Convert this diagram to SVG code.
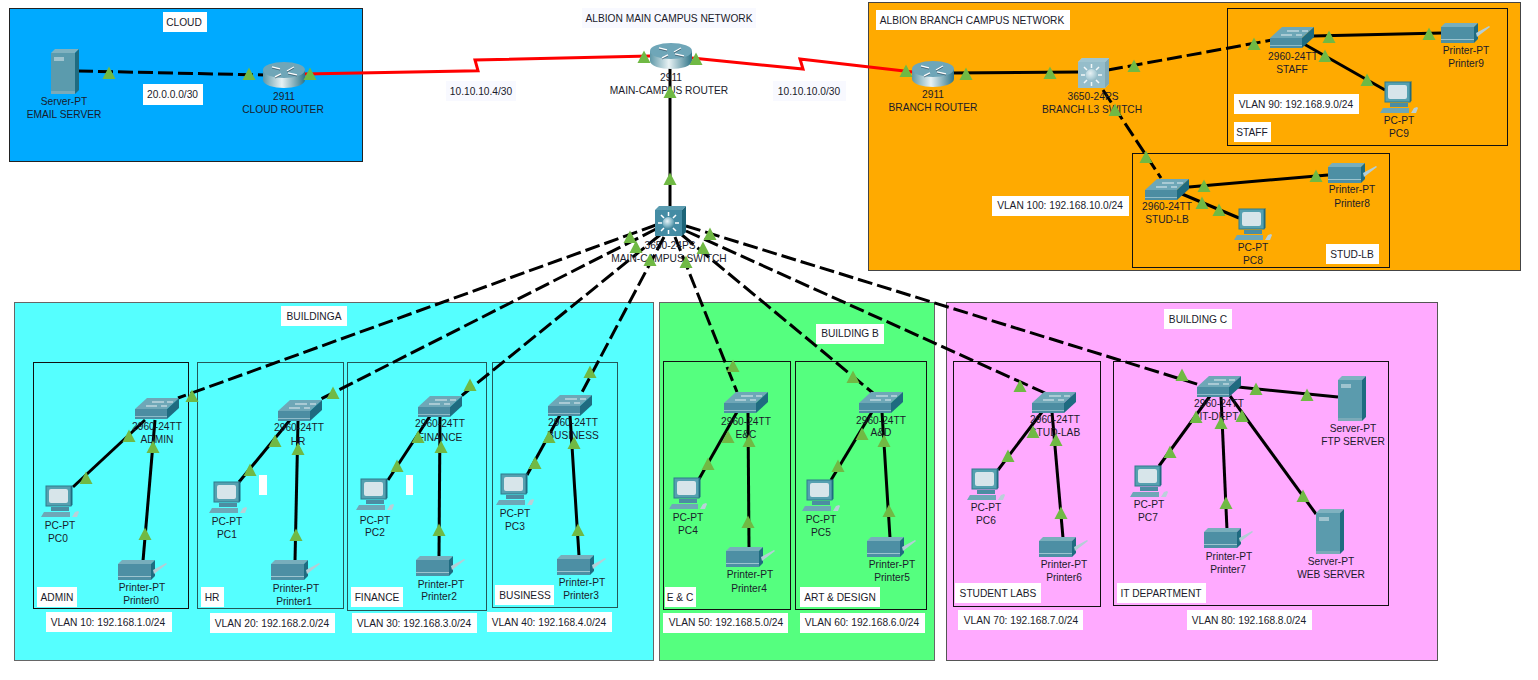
<svg xmlns="http://www.w3.org/2000/svg" xmlns:xlink="http://www.w3.org/1999/xlink" width="1538" height="680" viewBox="0 0 1538 680">
<style>
text{font-family:"Liberation Sans",Arial,sans-serif;font-size:10.2px;fill:#1a1a2a;text-anchor:middle}
.box{fill:#fff}
.pale{fill:#f8f9ff}
.sub{fill:none;stroke:#111;stroke-width:1}
.c{fill:none;stroke:#000;stroke-width:3}
.d{stroke-dasharray:15 5}
.r{fill:none;stroke:#f00;stroke-width:3}
.t{fill:#70b944}
</style>
<defs>
<linearGradient id="rg" x1="0" x2="1" y1="0" y2="0"><stop offset="0" stop-color="#5f98a8"/><stop offset=".45" stop-color="#e8f2f4"/><stop offset="1" stop-color="#2f7488"/></linearGradient>
<radialGradient id="sp" cx=".4" cy=".35" r=".7"><stop offset="0" stop-color="#e8f4f8"/><stop offset=".6" stop-color="#7fb4c4"/><stop offset="1" stop-color="#3a7f94"/></radialGradient>
<polygon id="t" class="t" points="0,-6.500 6.500,6 -6.500,6"/>
<g id="router">
<path d="M-21-5V5C-21 10-10 13 0 13S21 10 21 5V-5Z" fill="url(#rg)"/>
<ellipse cx="0" cy="-5" rx="21" ry="8" fill="#6fa6b8"/>
<path d="M-12-8l8 2M-3-1l-6 3M3-4l7-4M4-2l9 2" stroke="#fff" stroke-width="1.400" fill="none"/>
<path d="M-12-8l8 2M-3-1l-6 3M3-4l7-4M4-2l9 2" stroke="#123" stroke-width=".5" fill="none" transform="translate(0 1)"/>
</g>
<g id="sw">
<path d="M-22 0L-10-11H22L10 0Z" fill="#6ea7b7"/>
<rect x="-22" y="0" width="32" height="10" fill="#4c8da2"/>
<path d="M10 0L22-11V-1L10 10Z" fill="#1f6b80"/>
<path d="M-11-3h11M-5-7h12M4-3h6M10-7h6" stroke="#e4eef2" stroke-width="1"/>
<rect x="-22" y="7" width="32" height="1" fill="#8fbcc9"/>
</g>
<g id="l3m">
<path d="M-15-11l4-4H16l-4 4Z" fill="#5b9cb0"/>
<path d="M12-11l4-4V11l-4 4Z" fill="#1c6478"/>
<rect x="-15" y="-11" width="27" height="26" fill="#448ca4"/>
<circle cx="-1.500" cy="2" r="6" fill="url(#sp)"/>
<path d="M-1.500-9v4M-1.500 9v4M-12 2h4M5 2h4M-9-6l3 3M6-6L3-3M-9 10l3-3M6 10L3 7" stroke="#fff" stroke-width="1.500"/>
</g>
<g id="pc">
<rect x="-14" y="-16" width="25" height="20" fill="#55a0b0" stroke="#2f7a8c"/>
<rect x="-11" y="-13" width="19" height="14" rx="2" fill="#d7e5ea"/>
<path d="M11-16l1.500-1V3L11 4Z" fill="#1f6b80"/>
<rect x="-9" y="5" width="18" height="4" fill="#4c8da2"/>
<path d="M-19 15l3-5H10v5Z" fill="#6ea7b7"/>
<path d="M12 15l3-5 3-1 1 1-2 5Z" fill="#b9d0d8"/>
</g>
<g id="printer">
<path d="M-25-6l4-4H12l-4 4Z" fill="#78aebc"/>
<rect x="-25" y="-6" width="33" height="16" fill="#4d8fa4"/>
<path d="M8-6l4-4V6l-4 4Z" fill="#1f6b80"/>
<rect x="-25" y="6" width="33" height="1" fill="#9cc4cf"/>
<path d="M10 0L23-7l1 1L11 4Z" fill="#b4ced6"/>
</g>
<g id="server">
<path d="M-14-18l4-4H14l-4 4Z" fill="#7fb2c0"/>
<rect x="-14" y="-18" width="24" height="41" fill="#5b9bad"/>
<path d="M10-18l4-4V19l-4 4Z" fill="#1f6b80"/>
<rect x="-11" y="-14" width="10" height="4" fill="#9fc4cf"/>
<rect x="-14" y="20" width="24" height="3" fill="#7aaab8"/>
</g>
</defs>
<rect width="1538" height="680" fill="#fff"/>

<g id="areas">
<rect x="9.500" y="8.500" width="353" height="153" fill="#00aaff" stroke="#222"/>
<rect x="868.500" y="2.500" width="652" height="268" fill="#ffaa00" stroke="#444"/>
<rect x="1227.500" y="8.500" width="280" height="137" class="sub"/>
<rect x="1132.500" y="153.500" width="257" height="114" class="sub"/>
<rect x="14.500" y="302.500" width="639" height="358" fill="#55ffff" stroke="#666"/>
<rect x="659.500" y="302.500" width="275" height="358" fill="#55ff7f" stroke="#666"/>
<rect x="946.500" y="302.500" width="491" height="358" fill="#ffaaff" stroke="#555"/>
<rect x="33.500" y="362.500" width="155" height="246" class="sub"/>
<rect x="197.500" y="362.500" width="146" height="246" class="sub" stroke-opacity=".7"/>
<rect x="347.500" y="362.500" width="139" height="248" class="sub" stroke-opacity=".7"/>
<rect x="492.500" y="362.500" width="125" height="245" class="sub" stroke-opacity=".7"/>
<rect x="663.500" y="361.500" width="127" height="248" class="sub"/>
<rect x="795.500" y="361.500" width="131" height="248" class="sub"/>
<rect x="953.500" y="361.500" width="147" height="245" class="sub"/>
<rect x="1113.500" y="361.500" width="275" height="244" class="sub"/>
</g>

<g id="labels">
<rect x="163" y="12" width="44" height="20" class="box"/><text x="184" y="25.500">CLOUD</text>
<rect x="143" y="84" width="60" height="21" class="box"/><text x="172.500" y="98">20.0.0.0/30</text>
<rect x="446" y="81" width="70" height="20" class="pale"/><text x="481" y="94.500">10.10.10.4/30</text>
<rect x="582" y="8" width="174" height="20" class="pale"/><text x="669" y="21.500">ALBION MAIN CAMPUS NETWORK</text>
<rect x="773" y="81" width="73" height="20" class="pale"/><text x="809" y="94.500">10.10.10.0/30</text>
<rect x="876" y="10" width="194" height="20" class="box"/><text x="972" y="23.500">ALBION BRANCH CAMPUS NETWORK</text>
<rect x="1234" y="94" width="125" height="20" class="box"/><text x="1296" y="107.500">VLAN 90: 192.168.9.0/24</text>
<rect x="1234" y="122" width="37" height="20" class="box"/><text x="1252" y="135.500">STAFF</text>
<rect x="992" y="196" width="137" height="20" class="box"/><text x="1060" y="209">VLAN 100: 192.168.10.0/24</text>
<rect x="1326" y="244" width="53" height="20" class="box"/><text x="1352" y="257.500">STUD-LB</text>
<rect x="281" y="306" width="66" height="20" class="box"/><text x="314" y="319.500">BUILDINGA</text>
<rect x="816" y="324" width="68" height="20" class="box"/><text x="850" y="337">BUILDING B</text>
<rect x="1164" y="309" width="68" height="20" class="box"/><text x="1198" y="323">BUILDING C</text>
<rect x="37" y="587" width="40" height="20" class="box"/><text x="57" y="600.500">ADMIN</text>
<rect x="201" y="587" width="23" height="20" class="box"/><text x="212" y="600.500">HR</text>
<rect x="351" y="587" width="52" height="20" class="box"/><text x="377" y="600.500">FINANCE</text>
<rect x="495" y="585" width="59" height="20" class="box"/><text x="525" y="598.500">BUSINESS</text>
<rect x="665" y="587" width="31" height="20" class="box"/><text x="680" y="600.500">E &amp; C</text>
<rect x="800" y="587" width="80" height="20" class="box"/><text x="840" y="600.500">ART &amp; DESIGN</text>
<rect x="955" y="583" width="86" height="20" class="box"/><text x="998" y="596.500">STUDENT LABS</text>
<rect x="1117" y="583" width="89" height="20" class="box"/><text x="1161" y="596.500">IT DEPARTMENT</text>
<rect x="46" y="612" width="126" height="20" class="box"/><text x="108" y="625.500">VLAN 10: 192.168.1.0/24</text>
<rect x="210" y="613" width="125" height="20" class="box"/><text x="272" y="626.500">VLAN 20: 192.168.2.0/24</text>
<rect x="352" y="613" width="125" height="20" class="box"/><text x="414" y="626.500">VLAN 30: 192.168.3.0/24</text>
<rect x="487" y="612" width="125" height="20" class="box"/><text x="549" y="625.500">VLAN 40: 192.168.4.0/24</text>
<rect x="663" y="613" width="125" height="20" class="box"/><text x="726" y="626">VLAN 50: 192.168.5.0/24</text>
<rect x="800" y="613" width="125" height="20" class="box"/><text x="862" y="626">VLAN 60: 192.168.6.0/24</text>
<rect x="958" y="610" width="125" height="20" class="box"/><text x="1021" y="623.500">VLAN 70: 192.168.7.0/24</text>
<rect x="1187" y="610" width="125" height="20" class="box"/><text x="1249" y="623.500">VLAN 80: 192.168.8.0/24</text>
<rect x="259" y="475" width="8" height="20" class="box"/>
<rect x="406" y="475" width="7" height="20" class="box"/>
</g>

<g id="connectors">
<path class="c d" d="M78 71L265 75"/>
<path class="r" d="M304 74L478 70.700L475 60L650 56"/>
<path class="r" d="M692 58L803 69L800 59L913 72"/>
<path class="c" d="M670 66V206"/>
<path class="c" d="M950 73L1080 72"/>
<path class="c d" d="M1108 70L1272 40"/>
<path class="c d" d="M1103 90L1161 178"/>
<path class="c" d="M1313 36L1442 33"/>
<path class="c" d="M1304 44L1385 90"/>
<path class="c" d="M1189 187L1328 175"/>
<path class="c" d="M1182 194L1239 218"/>
<path class="c d" d="M656 225L178 398"/>
<path class="c d" d="M656 229L319 400"/>
<path class="c d" d="M660 235L460 397"/>
<path class="c d" d="M664 237L580 396"/>
<path class="c d" d="M675 237L737 392"/>
<path class="c d" d="M682 235L873 393"/>
<path class="c d" d="M686 231L1045 393"/>
<path class="c d" d="M686 226L1200 385"/>
<path class="c" d="M145 420L73 487"/>
<path class="c" d="M155 420L143 561"/>
<path class="c" d="M290 420L239 482"/>
<path class="c" d="M298 421L295 561"/>
<path class="c" d="M430 416L388 480"/>
<path class="c" d="M440 417L439 557"/>
<path class="c" d="M560 415L527 475"/>
<path class="c" d="M570 415L579 556"/>
<path class="c" d="M737 412L699 479"/>
<path class="c" d="M748 412L749 548"/>
<path class="c" d="M872 412L831 480"/>
<path class="c" d="M882 412L890 538"/>
<path class="c" d="M1042 412L998 470"/>
<path class="c" d="M1052 412L1063 538"/>
<path class="c" d="M1210 396L1159 466"/>
<path class="c" d="M1221 396L1227 530"/>
<path class="c" d="M1230 396L1316 514"/>
<path class="c" d="M1238 387L1338 397"/>
</g>

<g id="email-server"><use href="#server" x="65" y="71"/><text x="64" y="104.500">Server-PT</text><text x="64" y="117.500">EMAIL SERVER</text></g>
<g id="cloud-router"><use href="#router" x="284" y="75"/><text x="284" y="100">2911</text><text x="283" y="113">CLOUD ROUTER</text></g>
<g id="main-router"><use href="#router" x="671" y="56"/><text x="671" y="80.500">2911</text><text x="669" y="93.500">MAIN-CAMPUS ROUTER</text></g>
<g id="main-switch"><use href="#l3m" x="670" y="221"/><text x="670" y="248.500">3650-24PS</text><text x="669" y="261.500">MAIN-CAMPUS SWITCH</text></g>
<g id="branch-router"><use href="#router" x="933" y="74"/><text x="933" y="98">2911</text><text x="933" y="111">BRANCH ROUTER</text></g>
<g id="branch-switch"><path d="M1078 62l4-4h27v26l-4 4h-27z" fill="#e8f0f2"/><use href="#l3m" x="1093" y="73" opacity=".5"/><text x="1093" y="100">3650-24PS</text><text x="1092" y="113">BRANCH L3 SWITCH</text></g>
<g id="staff-switch"><use href="#sw" x="1292" y="38"/><text x="1293" y="59.500">2960-24TT</text><text x="1292" y="72.500">STAFF</text></g>
<g id="printer9"><use href="#printer" x="1466" y="33"/><text x="1466" y="54">Printer-PT</text><text x="1466" y="67">Printer9</text></g>
<g id="pc9"><use href="#pc" x="1399" y="98"/><text x="1399" y="124">PC-PT</text><text x="1399" y="137">PC9</text></g>
<g id="studlb-switch"><use href="#sw" x="1167" y="190"/><text x="1167" y="209.500">2960-24TT</text><text x="1167" y="222.500">STUD-LB</text></g>
<g id="printer8"><use href="#printer" x="1353" y="173"/><text x="1352" y="193">Printer-PT</text><text x="1352" y="207">Printer8</text></g>
<g id="pc8"><use href="#pc" x="1253" y="225"/><text x="1253" y="251">PC-PT</text><text x="1253" y="264">PC8</text></g>

<g id="admin-switch"><use href="#sw" x="157" y="409"/><text x="157" y="430">2960-24TT</text><text x="157" y="443">ADMIN</text></g>
<g id="pc0"><use href="#pc" x="60" y="502"/><text x="60" y="528.500">PC-PT</text><text x="58" y="541.500">PC0</text></g>
<g id="printer0"><use href="#printer" x="143" y="570"/><text x="142" y="590.500">Printer-PT</text><text x="141" y="603.500">Printer0</text></g>
<g id="hr-switch"><use href="#sw" x="300" y="411"/><text x="299" y="431">2960-24TT</text><text x="298" y="444.500">HR</text></g>
<g id="pc1"><use href="#pc" x="228" y="498"/><text x="227" y="524.500">PC-PT</text><text x="227" y="537.500">PC1</text></g>
<g id="printer1"><use href="#printer" x="296" y="570"/><text x="296" y="591.500">Printer-PT</text><text x="294" y="604.500">Printer1</text></g>
<g id="finance-switch"><use href="#sw" x="440" y="407"/><text x="440" y="427">2960-24TT</text><text x="440" y="440.500">FINANCE</text></g>
<g id="pc2"><use href="#pc" x="375" y="495"/><text x="375" y="523.500">PC-PT</text><text x="375" y="536">PC2</text></g>
<g id="printer2"><use href="#printer" x="441" y="566"/><text x="441" y="587.500">Printer-PT</text><text x="439" y="600">Printer2</text></g>
<g id="business-switch"><use href="#sw" x="570" y="406"/><text x="573" y="425.500">2960-24TT</text><text x="573" y="438.500">BUSINESS</text></g>
<g id="pc3"><use href="#pc" x="515" y="490"/><text x="515" y="516.500">PC-PT</text><text x="515" y="529.500">PC3</text></g>
<g id="printer3"><use href="#printer" x="582" y="565"/><text x="582" y="585.500">Printer-PT</text><text x="581" y="598.500">Printer3</text></g>
<g id="ec-switch"><use href="#sw" x="746" y="403"/><text x="746" y="424.500">2960-24TT</text><text x="746" y="437.500">E&amp;C</text></g>
<g id="pc4"><use href="#pc" x="688" y="494"/><text x="688" y="520.500">PC-PT</text><text x="688" y="533.500">PC4</text></g>
<g id="printer4"><use href="#printer" x="751" y="557"/><text x="750" y="577.500">Printer-PT</text><text x="749" y="591.500">Printer4</text></g>
<g id="ad-switch"><use href="#sw" x="881" y="403"/><text x="881" y="423.500">2960-24TT</text><text x="881" y="436">A&amp;D</text></g>
<g id="pc5"><use href="#pc" x="821" y="496"/><text x="821" y="522.500">PC-PT</text><text x="821" y="535.500">PC5</text></g>
<g id="printer5"><use href="#printer" x="892" y="547"/><text x="892" y="567.500">Printer-PT</text><text x="892" y="580.500">Printer5</text></g>
<g id="studlab-switch"><use href="#sw" x="1054" y="403"/><text x="1055" y="422.500">2960-24TT</text><text x="1055" y="435.500">STUD-LAB</text></g>
<g id="pc6"><use href="#pc" x="986" y="485"/><text x="986" y="510.500">PC-PT</text><text x="986" y="523.500">PC6</text></g>
<g id="printer6"><use href="#printer" x="1064" y="547"/><text x="1064" y="567.500">Printer-PT</text><text x="1064" y="580.500">Printer6</text></g>
<g id="it-switch"><use href="#sw" x="1219" y="387"/><text x="1219" y="406.500">2960-24TT</text><text x="1219" y="419.500">IT-DEPT</text></g>
<g id="pc7"><use href="#pc" x="1149" y="482"/><text x="1149" y="507.500">PC-PT</text><text x="1148" y="520.500">PC7</text></g>
<g id="printer7"><use href="#printer" x="1229" y="538"/><text x="1229" y="559.500">Printer-PT</text><text x="1228" y="572.500">Printer7</text></g>
<g id="ftp-server"><use href="#server" x="1352" y="398"/><text x="1353" y="431.500">Server-PT</text><text x="1353" y="444.500">FTP SERVER</text></g>
<g id="web-server"><use href="#server" x="1330" y="531"/><text x="1331" y="564.500">Server-PT</text><text x="1331" y="577.500">WEB SERVER</text></g>

<g id="ports">
<use href="#t" x="109" y="73"/><use href="#t" x="249" y="74"/><use href="#t" x="310" y="74"/>
<use href="#t" x="644" y="57"/><use href="#t" x="696" y="59"/><use href="#t" x="670" y="92"/><use href="#t" x="670" y="179"/>
<use href="#t" x="630" y="237"/><use href="#t" x="636" y="247"/><use href="#t" x="650" y="260"/><use href="#t" x="686" y="262"/><use href="#t" x="703" y="248"/><use href="#t" x="710" y="234"/>
<use href="#t" x="906" y="71"/><use href="#t" x="966" y="74"/><use href="#t" x="1050" y="73"/><use href="#t" x="1134" y="66"/><use href="#t" x="1254" y="44"/><use href="#t" x="1329" y="37"/><use href="#t" x="1429" y="34"/><use href="#t" x="1325" y="56"/><use href="#t" x="1367" y="80"/><use href="#t" x="1115" y="110"/><use href="#t" x="1146" y="157"/><use href="#t" x="1204" y="186"/><use href="#t" x="1316" y="176"/><use href="#t" x="1202" y="203"/><use href="#t" x="1219" y="210"/>
<use href="#t" x="192" y="396"/><use href="#t" x="333" y="393"/><use href="#t" x="470" y="385"/><use href="#t" x="590" y="372"/><use href="#t" x="733" y="366"/><use href="#t" x="853" y="377"/><use href="#t" x="1020" y="386"/><use href="#t" x="1182" y="375"/>
<use href="#t" x="129" y="436"/><use href="#t" x="86" y="478"/><use href="#t" x="153" y="447"/><use href="#t" x="145" y="534"/>
<use href="#t" x="275" y="441"/><use href="#t" x="250" y="470"/><use href="#t" x="298" y="449"/><use href="#t" x="296" y="535"/>
<use href="#t" x="418" y="437"/><use href="#t" x="397" y="466"/><use href="#t" x="441" y="447"/><use href="#t" x="439" y="530"/>
<use href="#t" x="549" y="437"/><use href="#t" x="535" y="463"/><use href="#t" x="574" y="443"/><use href="#t" x="578" y="530"/>
<use href="#t" x="728" y="437"/><use href="#t" x="708" y="464"/><use href="#t" x="749" y="441"/><use href="#t" x="748" y="522"/>
<use href="#t" x="862" y="434"/><use href="#t" x="838" y="466"/><use href="#t" x="884" y="441"/><use href="#t" x="889" y="511"/>
<use href="#t" x="1033" y="432"/><use href="#t" x="1008" y="456"/><use href="#t" x="1056" y="440"/><use href="#t" x="1061" y="513"/>
<use href="#t" x="1196" y="417"/><use href="#t" x="1170" y="452"/><use href="#t" x="1221" y="423"/><use href="#t" x="1226" y="503"/><use href="#t" x="1242" y="416"/><use href="#t" x="1303" y="496"/><use href="#t" x="1256" y="389"/><use href="#t" x="1307" y="395"/>
</g>
</svg>
